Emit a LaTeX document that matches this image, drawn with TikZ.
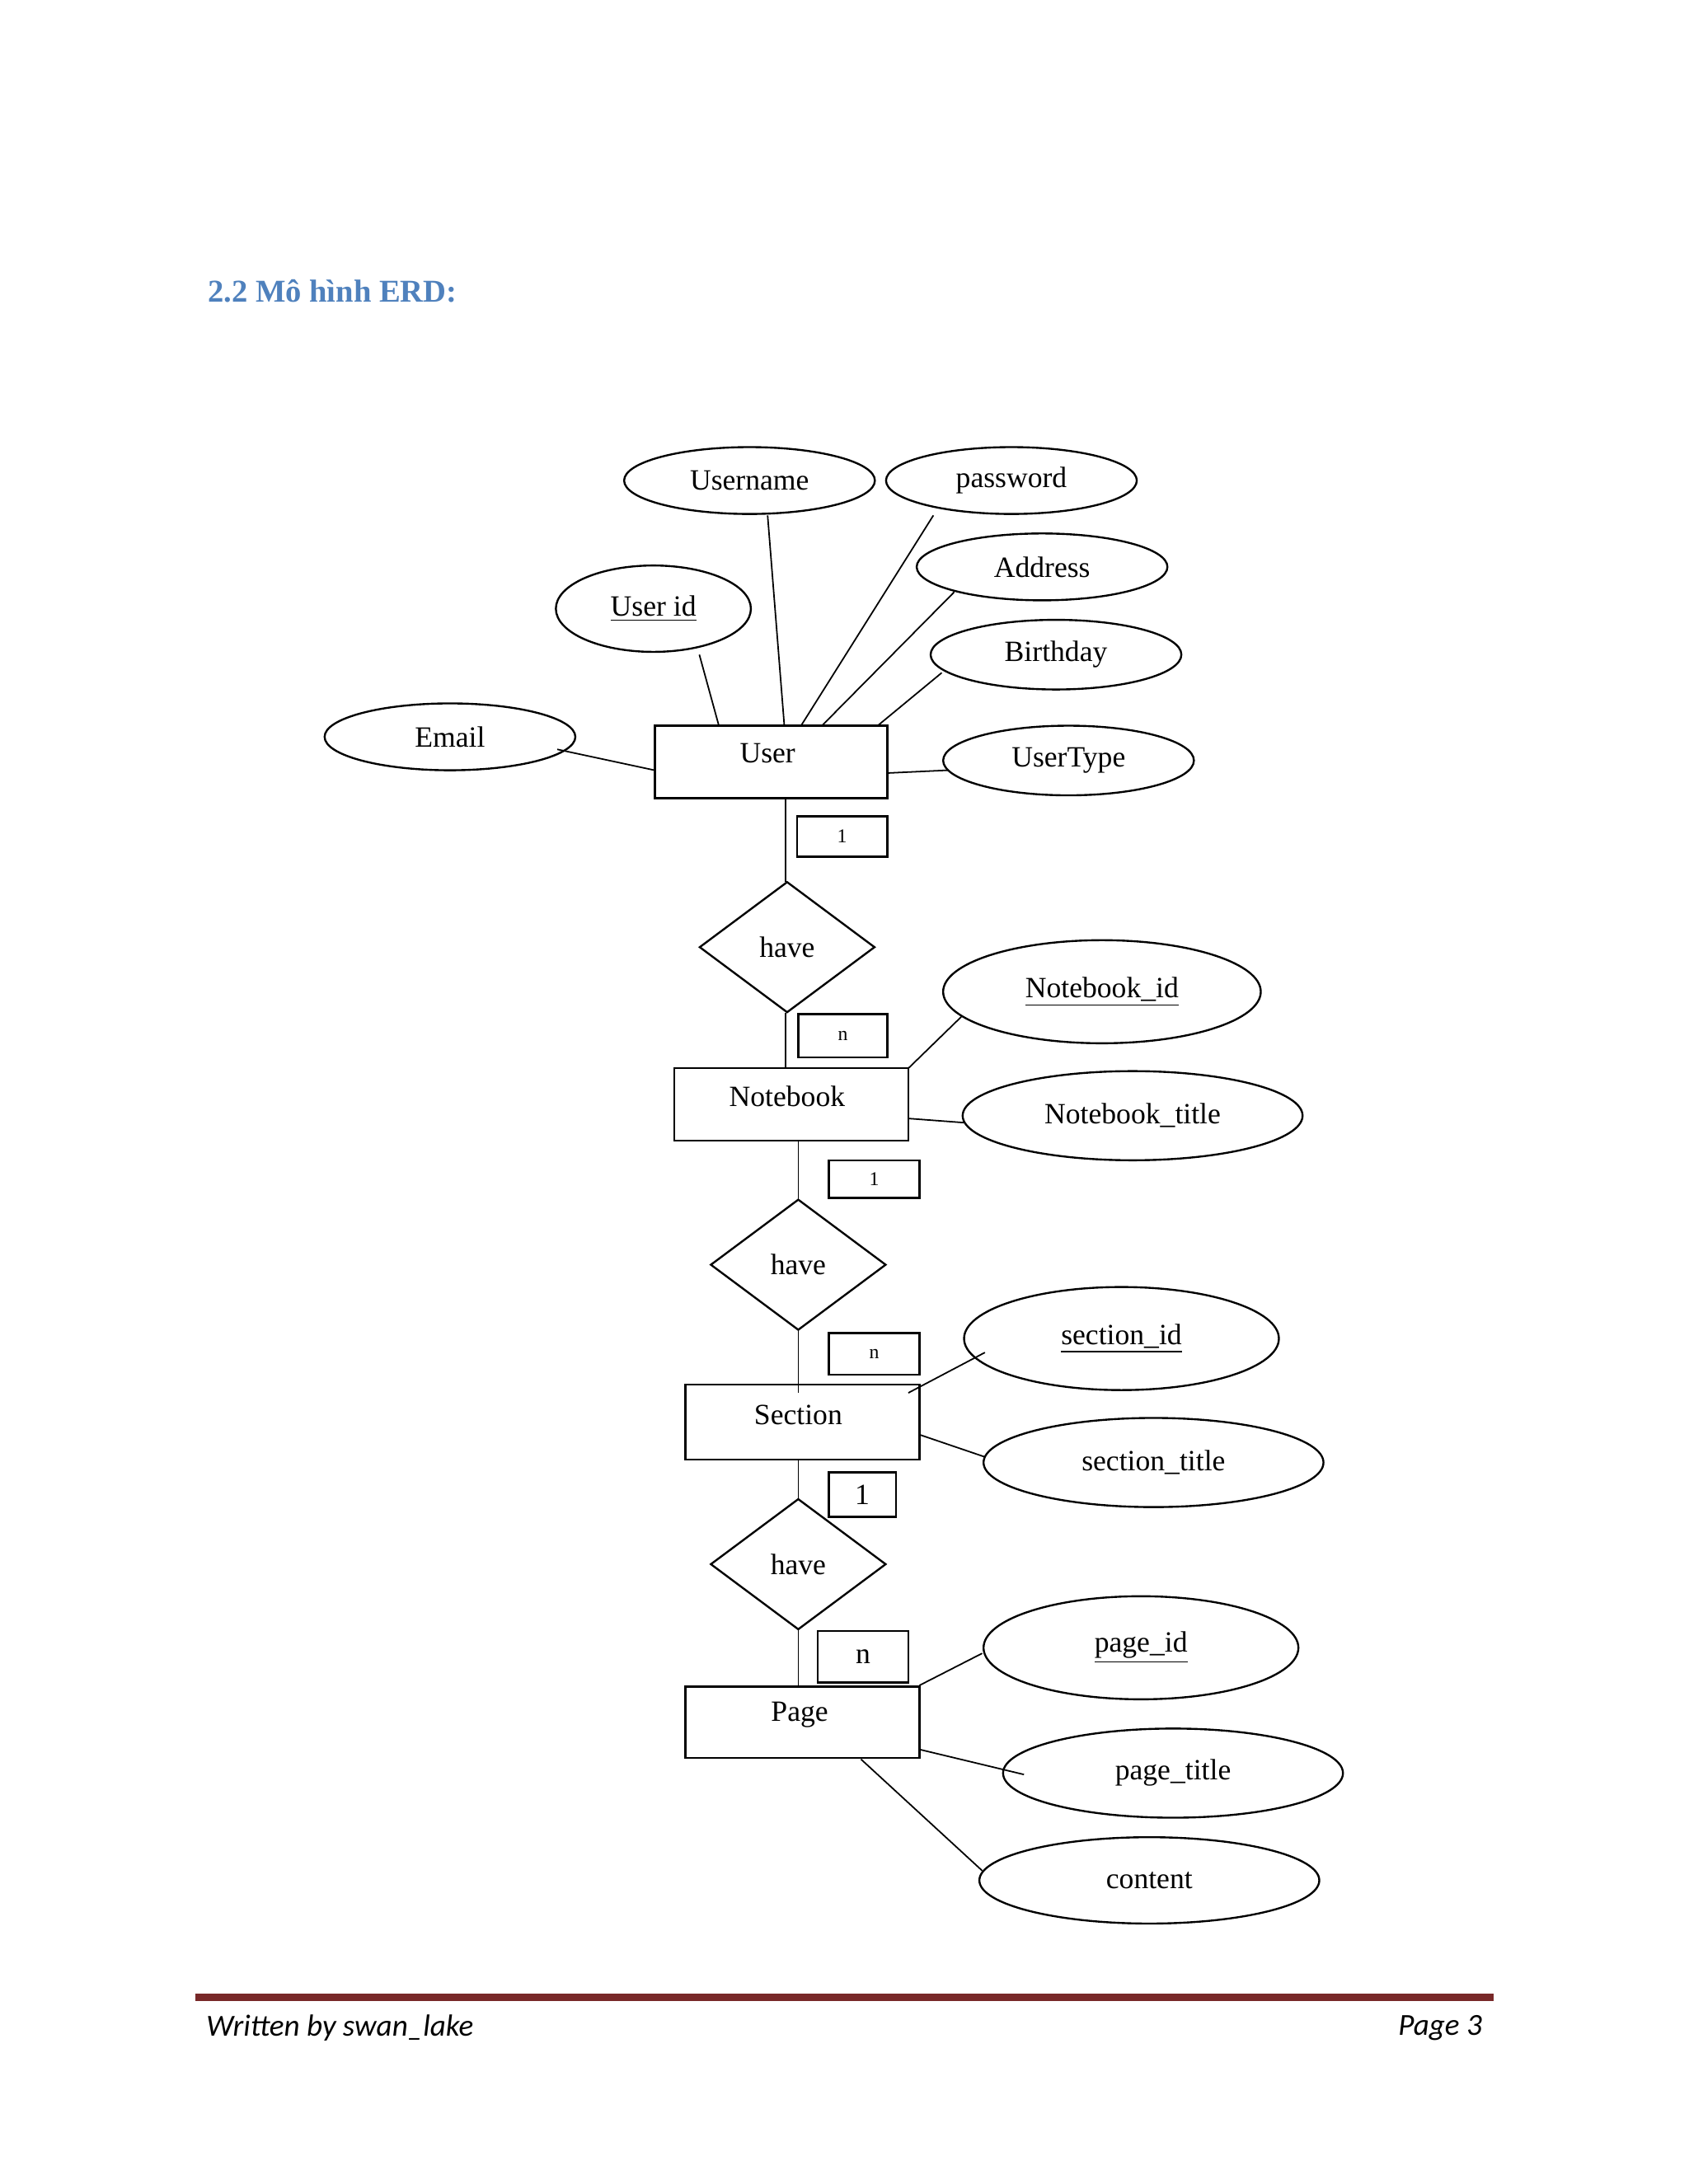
\documentclass[tikz,border=0pt]{standalone}
\usepackage{fontspec}
\setmainfont{Liberation Serif}
\newfontfamily\footfont{Carlito}
\usetikzlibrary{shapes.geometric}
\definecolor{titleblue}{RGB}{79,129,189}
\definecolor{footred}{RGB}{120,40,40}
\begin{document}
\begin{tikzpicture}[x=0.02cm,y=-0.02cm,
  every node/.style={font=\fontsize{12}{14}\selectfont},
  ent/.style={draw,thick,rectangle,inner sep=0},
  att/.style={draw,thick,ellipse,inner sep=0},
  rel/.style={draw,thick,diamond,inner sep=0,minimum width=126*0.02cm,minimum height=94*0.02cm},
  card/.style={draw,thick,rectangle,inner sep=0,font=\fontsize{8}{9}\selectfont},
  ln/.style={semithick}]
\useasboundingbox (0,0) rectangle (1212,1568);
\fill[white] (0,0) rectangle (1212,1568);
\node[anchor=west,font=\fontsize{13}{15}\selectfont\bfseries,text=titleblue] (title) at (143,209) {2.2 Mô hình ERD:};
% entities
\node[ent,minimum width=167*0.02cm,minimum height=52*0.02cm] (user) at (553.5,547) {};
\node (userT) at (551,541) {User};
\node[ent,minimum width=168*0.02cm,minimum height=52*0.02cm] (nb) at (568,793) {};
\node (nbT) at (565,787) {Notebook};
\node[ent,minimum width=168*0.02cm,minimum height=54*0.02cm] (sec) at (576,1021) {};
\node (secT) at (573,1016) {Section};
\node[ent,minimum width=168*0.02cm,minimum height=51*0.02cm] (page) at (576,1236.5) {};
\node (pageT) at (574,1231) {Page};
% relationships
\node[rel] (r1) at (565,680) {have};
\node[rel] (r2) at (573,908) {have};
\node[rel] (r3) at (573,1123) {have};
% cardinality boxes
\node[card,minimum width=65*0.02cm,minimum height=29*0.02cm] (c1) at (604.5,600.5) {1};
\node[card,minimum width=64*0.02cm,minimum height=31*0.02cm] (c2) at (605,743.5) {n};
\node[card,minimum width=65*0.02cm,minimum height=27*0.02cm] (c3) at (627.5,846.5) {1};
\node[card,minimum width=65*0.02cm,minimum height=30*0.02cm] (c4) at (627.5,972) {n};
\node[card,minimum width=48*0.02cm,minimum height=32*0.02cm,font=\fontsize{12}{14}\selectfont] (c5) at (619,1073) {1};
\node[card,minimum width=65*0.02cm,minimum height=37*0.02cm,font=\fontsize{12}{14}\selectfont] (c6) at (619.5,1189.5) {n};
% attributes
\node[att,minimum width=180*0.02cm,minimum height=48*0.02cm] (uname) at (538,345) {Username};
\node[att,minimum width=180*0.02cm,minimum height=48*0.02cm] (pw) at (726,345) {password};
\node[att,minimum width=180*0.02cm,minimum height=48*0.02cm] (addr) at (748,407) {Address};
\node[att,minimum width=140*0.02cm,minimum height=62*0.02cm] (uid) at (469,437) {\underline{User id}};
\node[att,minimum width=180*0.02cm,minimum height=50*0.02cm] (bday) at (758,470) {Birthday};
\node[att,minimum width=180*0.02cm,minimum height=48*0.02cm] (email) at (323,529) {Email};
\node[att,minimum width=180*0.02cm,minimum height=50*0.02cm] (utype) at (767,546) {UserType};
\node[att,minimum width=228*0.02cm,minimum height=74*0.02cm] (nbid) at (791,712) {\underline{Notebook\_id}};
\node[att,minimum width=244*0.02cm,minimum height=64*0.02cm] (nbt) at (813,801) {Notebook\_title};
\node[att,minimum width=226*0.02cm,minimum height=74*0.02cm] (sid) at (805,961) {\underline{section\_id}};
\node[att,minimum width=244*0.02cm,minimum height=64*0.02cm] (st) at (828,1050) {section\_title};
\node[att,minimum width=226*0.02cm,minimum height=74*0.02cm] (pid) at (819,1183) {\underline{page\_id}};
\node[att,minimum width=244*0.02cm,minimum height=64*0.02cm] (pt) at (842,1273) {page\_title};
\node[att,minimum width=244*0.02cm,minimum height=62*0.02cm] (cont) at (825,1350) {content};
% connector end points
\coordinate (pUn1) at (551,370); \coordinate (pUn2) at (563,521);
\coordinate (pPw1) at (670,370); \coordinate (pPw2) at (575,521);
\coordinate (pAd1) at (685,425); \coordinate (pAd2) at (590,521);
\coordinate (pId1) at (502,470); \coordinate (pId2) at (516,521);
\coordinate (pBd1) at (676,483); \coordinate (pBd2) at (630,521);
\coordinate (pEm1) at (400,538); \coordinate (pEm2) at (470,553);
\coordinate (pUt1) at (680,553); \coordinate (pUt2) at (637,555);
\coordinate (pU) at (564,573); \coordinate (pR1t) at (564,633);
\coordinate (pR1b) at (564,727); \coordinate (pNt) at (564,767);
\coordinate (pNi1) at (690,730); \coordinate (pNi2) at (652,767);
\coordinate (pNt1) at (692,806); \coordinate (pNt2) at (652,803);
\coordinate (pNb) at (573,819); \coordinate (pR2t) at (573,861);
\coordinate (pR2b) at (573,955); \coordinate (pSt) at (573,1000);
\coordinate (pSi1) at (707,971); \coordinate (pSi2) at (652,1000);
\coordinate (pSx1) at (707,1046); \coordinate (pSx2) at (660,1030);
\coordinate (pSb) at (573,1048); \coordinate (pR3t) at (573,1076);
\coordinate (pR3b) at (573,1170); \coordinate (pPt) at (573,1211);
\coordinate (pPi1) at (705,1187); \coordinate (pPi2) at (660,1210);
\coordinate (pPx1) at (735,1274); \coordinate (pPx2) at (660,1256);
\coordinate (pCo1) at (705,1343); \coordinate (pCo2) at (618,1263);
% connectors
\draw[ln] (pUn1) -- (pUn2);
\draw[ln] (pPw1) -- (pPw2);
\draw[ln] (pAd1) -- (pAd2);
\draw[ln] (pId1) -- (pId2);
\draw[ln] (pBd1) -- (pBd2);
\draw[ln] (pEm1) -- (pEm2);
\draw[ln] (pUt1) -- (pUt2);
\draw[ln] (pU) -- (pR1t);
\draw[ln] (pR1b) -- (pNt);
\draw[ln] (pNi1) -- (pNi2);
\draw[ln] (pNt1) -- (pNt2);
\draw[ln] (pNb) -- (pR2t);
\draw[ln] (pR2b) -- (pSt);
\draw[ln] (pSi1) -- (pSi2);
\draw[ln] (pSx1) -- (pSx2);
\draw[ln] (pSb) -- (pR3t);
\draw[ln] (pR3b) -- (pPt);
\draw[ln] (pPi1) -- (pPi2);
\draw[ln] (pPx1) -- (pPx2);
\draw[ln] (pCo1) -- (pCo2);
% footer
\draw[footred,line width=5*0.02cm] (140,1434) -- (1072,1434);
\node[anchor=west,font=\footfont\itshape\fontsize{12.5}{15}\selectfont] (foot) at (142,1456) {Written by swan\_lake};
\node[anchor=east,font=\footfont\itshape\fontsize{12.5}{15}\selectfont] (pg) at (1070,1456) {Page 3};
\end{tikzpicture}
\end{document}
